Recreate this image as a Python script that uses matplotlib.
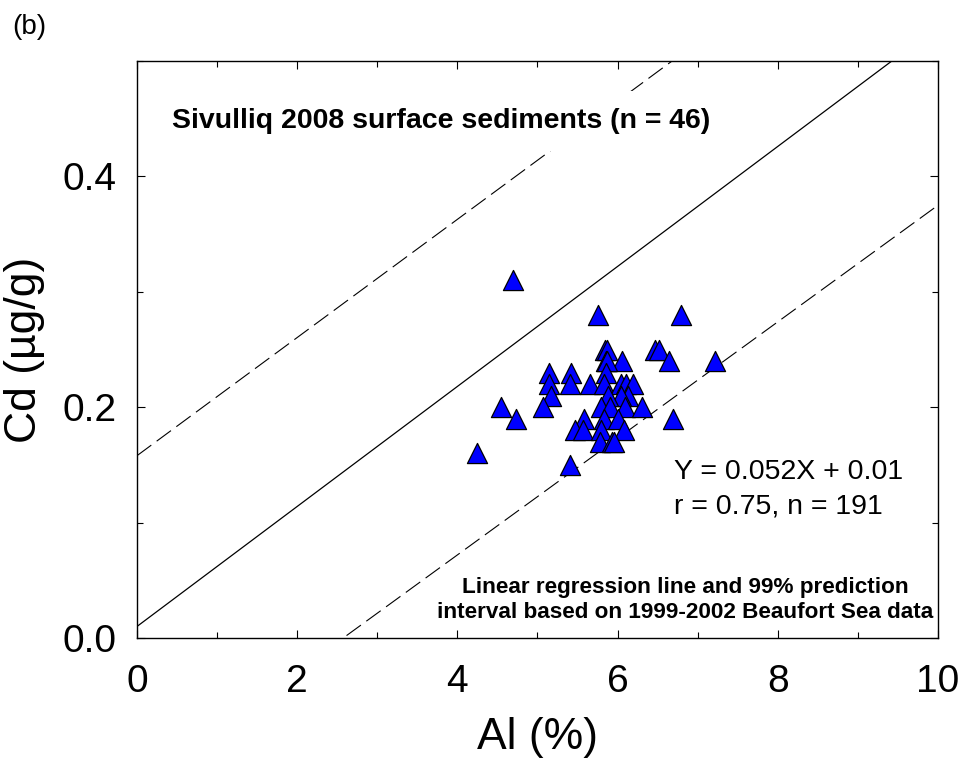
import numpy as np
import matplotlib
matplotlib.use('Agg')
import matplotlib.pyplot as plt
from matplotlib.ticker import MultipleLocator

plt.rcParams['font.family'] = ['Liberation Sans', 'DejaVu Sans']

# Sivulliq 2008 surface sediments: Al (%) and Cd (ug/g)
al = [4.69, 5.76, 6.79, 5.84, 5.87, 6.47, 6.52, 6.64, 7.22, 5.85,
      6.06, 5.87, 5.15, 5.42, 5.85, 5.15, 5.40, 5.66, 5.83, 6.04,
      6.10, 6.19, 5.17, 6.13, 6.04, 5.88, 4.54, 5.07, 5.79, 5.90,
      6.09, 6.30, 4.73, 5.58, 5.83, 6.00, 6.69, 5.47, 5.57, 5.79,
      6.08, 5.78, 5.93, 5.96, 4.24, 5.40]
cd = [0.31, 0.28, 0.28, 0.25, 0.25, 0.25, 0.25, 0.24, 0.24, 0.24,
      0.24, 0.24, 0.23, 0.23, 0.23, 0.22, 0.22, 0.22, 0.22, 0.22,
      0.22, 0.22, 0.21, 0.21, 0.21, 0.21, 0.20, 0.20, 0.20, 0.20,
      0.20, 0.20, 0.19, 0.19, 0.19, 0.19, 0.19, 0.18, 0.18, 0.18,
      0.18, 0.17, 0.17, 0.17, 0.16, 0.15]

# regression line and 99% prediction interval (1999-2002 Beaufort Sea)
reg_slope, reg_intercept = 0.052, 0.01
upper_slope, upper_intercept = 0.0512, 0.158
lower_slope, lower_intercept = 0.0505, -0.130

xlim = (0, 10)
ylim = (0, 0.5)

fig = plt.figure(figsize=(9.64, 7.64), dpi=100)
ax = fig.add_axes([0.1421, 0.1649, 0.8309, 0.7552])

xs = np.linspace(xlim[0], xlim[1], 50)
ax.plot(xs, reg_slope * xs + reg_intercept, color='black', lw=0.9, zorder=2)
for s, b in [(upper_slope, upper_intercept), (lower_slope, lower_intercept)]:
    ax.plot(xs, s * xs + b, color='black', lw=0.8, dashes=(16, 6), zorder=2)

ax.scatter(al, cd, marker='^', s=210, color='#0000ff', edgecolor='black',
           linewidth=0.9, zorder=5)

ax.set_xlim(*xlim)
ax.set_ylim(*ylim)
ax.xaxis.set_major_locator(MultipleLocator(2))
ax.xaxis.set_minor_locator(MultipleLocator(1))
ax.yaxis.set_major_locator(MultipleLocator(0.2))
ax.yaxis.set_minor_locator(MultipleLocator(0.1))
ax.yaxis.set_major_formatter(plt.FuncFormatter(lambda v, p: f'{v:.1f}'))
ax.tick_params(which='both', direction='in', top=True, right=True,
               width=0.8, labelsize=28)
ax.tick_params(which='major', length=6)
ax.tick_params(which='minor', length=4)
ax.tick_params(axis='x', pad=19)
ax.tick_params(axis='y', pad=15)
for sp in ax.spines.values():
    sp.set_linewidth(1.0)

ax.set_xlabel('Al (%)', fontsize=32, labelpad=12)
ax.set_ylabel('Cd (µg/g)', fontsize=32, labelpad=12)

ax.text(0.0437, 0.884, 'Sivulliq 2008 surface sediments (n = 46)',
        transform=ax.transAxes, fontsize=20.5, fontweight='bold',
        ha='left', va='baseline', zorder=3,
        bbox=dict(boxstyle='square,pad=0.6', fc='white', ec='none'))

ax.text(0.670, 0.2756, 'Y = 0.052X + 0.01', transform=ax.transAxes,
        fontsize=20.5, ha='left', va='baseline')
ax.text(0.670, 0.2166, 'r = 0.75, n = 191', transform=ax.transAxes,
        fontsize=20.5, ha='left', va='baseline')

ax.text(0.684, 0.078, 'Linear regression line and 99% prediction',
        transform=ax.transAxes, fontsize=16.2, fontweight='bold',
        ha='center', va='baseline')
ax.text(0.684, 0.0347, 'interval based on 1999-2002 Beaufort Sea data',
        transform=ax.transAxes, fontsize=16.2, fontweight='bold',
        ha='center', va='baseline')

fig.text(0.0125, 0.9647, '(b)', fontsize=20, ha='left', va='center')

fig.savefig('out.png', dpi=100)
